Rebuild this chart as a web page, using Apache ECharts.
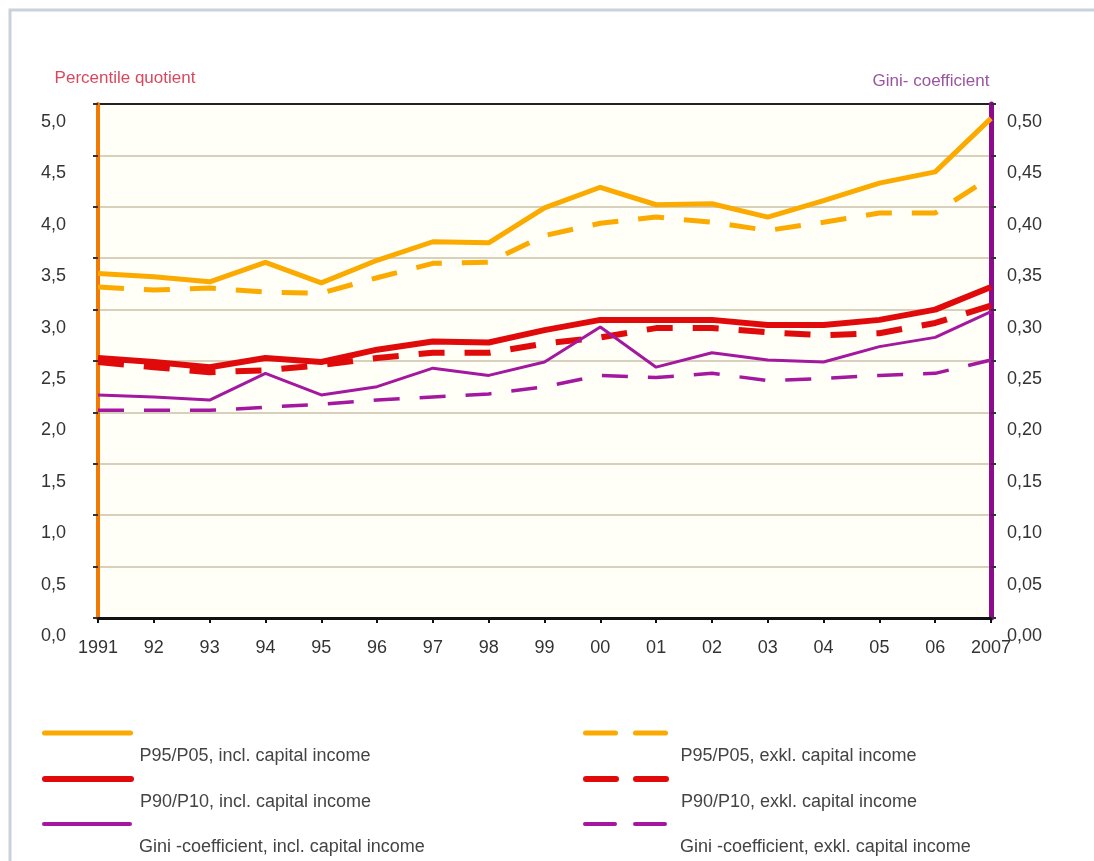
<!DOCTYPE html>
<html>
<head>
<meta charset="utf-8">
<script src="https://cdn.jsdelivr.net/npm/echarts@6/dist/echarts.min.js"></script>
<style>
  html, body { margin: 0; padding: 0; background: #fff; }
  #chart { width: 1094px; height: 861px; }
</style>
</head>
<body>
<div id="chart"></div>
<script>
const years = ['1991', '92', '93', '94', '95', '96', '97', '98', '99', '00', '01', '02', '03', '04', '05', '06', '2007']

// percentile quotients (left axis)
const p95Incl = [3.35, 3.32, 3.27, 3.46, 3.26, 3.48, 3.66, 3.65, 3.99, 4.19, 4.02, 4.03, 3.90, 4.06, 4.23, 4.34, 4.86]
const p95Exkl = [3.22, 3.19, 3.21, 3.17, 3.16, 3.31, 3.45, 3.46, 3.72, 3.84, 3.90, 3.85, 3.77, 3.85, 3.94, 3.94, 4.29]
const p90Incl = [2.53, 2.49, 2.44, 2.53, 2.49, 2.61, 2.69, 2.68, 2.80, 2.90, 2.90, 2.90, 2.85, 2.85, 2.90, 3.00, 3.22]
const p90Exkl = [2.49, 2.44, 2.39, 2.41, 2.46, 2.53, 2.58, 2.58, 2.67, 2.73, 2.82, 2.82, 2.78, 2.75, 2.77, 2.87, 3.04]

// gini coefficients (right axis)
const giniIncl = [0.217, 0.215, 0.212, 0.238, 0.217, 0.225, 0.243, 0.236, 0.249, 0.283, 0.244, 0.258, 0.251, 0.249, 0.264, 0.273, 0.298]
const giniExkl = [0.202, 0.202, 0.202, 0.205, 0.208, 0.212, 0.215, 0.218, 0.225, 0.236, 0.234, 0.238, 0.231, 0.233, 0.236, 0.238, 0.251]

const names = [
  'P95/P05, incl. capital income',
  'P90/P10, incl. capital income',
  'Gini -coefficient, incl. capital income',
  'P95/P05, exkl. capital income',
  'P90/P10, exkl. capital income',
  'Gini -coefficient, exkl. capital income'
]

const ORANGE = '#fbaa00'
const RED = '#e00a0a'
const PURPLE = '#a3189e'
const DASH = [26, 20]
const FONT = 'Liberation Sans, Arial, sans-serif'

// grid line colours, last one (5,0) is the black top frame
const splitColors = ['#d6d0bc', '#d6d0bc', '#d6d0bc', '#d6d0bc', '#d6d0bc', '#d6d0bc', '#d6d0bc', '#d6d0bc', '#d6d0bc', '#d6d0bc', '#222']

function makeLine(name, data, color, width, dashed, axis) {
  return {
    name: name,
    type: 'line',
    yAxisIndex: axis,
    data: data,
    symbol: 'none',
    z: dashed ? 3 : 4,
    lineStyle: { color: color, width: width, type: dashed ? DASH : 'solid', cap: 'butt' },
    itemStyle: { color: color }
  }
}

// one legend per entry: icon on top, text a row lower (as in the original)
function makeLegend(name, left, iconY, color, width, dashed) {
  return {
    left: left,
    top: iconY - 32,
    padding: 0,
    itemWidth: 86,
    itemHeight: 14,
    data: [name],
    itemStyle: { opacity: 0 },
    lineStyle: { color: color, width: width, type: dashed ? [30, 20] : 'solid', cap: 'round' },
    formatter: n => '{gap| }\n{t|' + n + '}',
    textStyle: {
      rich: {
        gap: { height: 46, lineHeight: 46, fontSize: 2 },
        t: { color: '#444', fontSize: 18, lineHeight: 18, fontFamily: FONT, padding: [0, 0, 0, 4] }
      }
    }
  }
}

const option = {
  backgroundColor: '#fff',
  animation: false,
  textStyle: { fontFamily: FONT },
  graphic: [{
    type: 'rect',
    shape: { x: 10, y: 10, width: 1200, height: 1000 },
    style: { fill: 'none', stroke: '#c9d1dc', lineWidth: 3 },
    silent: true
  }],
  grid: {
    left: 98, right: 103, top: 104, bottom: 243,
    show: true, backgroundColor: '#fffef7', borderWidth: 0
  },
  legend: [
    makeLegend(names[0], 42, 733, ORANGE, 5, false),
    makeLegend(names[1], 42, 779, RED, 6, false),
    makeLegend(names[2], 42, 824, PURPLE, 4, false),
    makeLegend(names[3], 583, 733, ORANGE, 5, true),
    makeLegend(names[4], 583, 779, RED, 6, true),
    makeLegend(names[5], 583, 824, PURPLE, 4, true)
  ],
  xAxis: {
    type: 'category',
    data: years,
    boundaryGap: false,
    axisLine: { lineStyle: { color: '#111', width: 3 } },
    axisTick: { show: true, length: 5, lineStyle: { color: '#111', width: 2 } },
    axisLabel: { color: '#333', fontSize: 18, margin: 21, fontFamily: FONT },
    splitLine: { show: false }
  },
  yAxis: [{
    type: 'value',
    min: 0, max: 5, interval: 0.5,
    name: 'Percentile quotient',
    nameLocation: 'end',
    nameGap: 17,
    nameTextStyle: { color: '#d9485e', fontSize: 17, fontFamily: FONT, align: 'center', padding: [0, 0, 0, 54] },
    axisLine: { show: true, lineStyle: { color: '#f27a00', width: 4 } },
    axisTick: { show: true, length: 5, lineStyle: { color: '#333', width: 2 } },
    axisLabel: {
      color: '#333', fontSize: 18, margin: 32, fontFamily: FONT,
      verticalAlign: 'top', padding: [9, 0, 0, 0],
      formatter: v => v.toFixed(1).replace('.', ',')
    },
    splitLine: { show: true, lineStyle: { color: splitColors, width: 2 } }
  }, {
    type: 'value',
    min: 0, max: 0.5, interval: 0.05,
    name: 'Gini- coefficient',
    nameLocation: 'end',
    nameGap: 14,
    nameTextStyle: { color: '#9a55a0', fontSize: 17, fontFamily: FONT, align: 'center', padding: [0, 120, 0, 0] },
    axisLine: { show: true, lineStyle: { color: '#8e0a8e', width: 5 } },
    axisTick: { show: true, length: 5, lineStyle: { color: '#333', width: 2 } },
    axisLabel: {
      color: '#333', fontSize: 18, margin: 16, fontFamily: FONT,
      verticalAlign: 'top', padding: [9, 0, 0, 0],
      formatter: v => v.toFixed(2).replace('.', ',')
    },
    splitLine: { show: false }
  }],
  series: [
    makeLine(names[3], p95Exkl, ORANGE, 5, true, 0),
    makeLine(names[4], p90Exkl, RED, 6, true, 0),
    makeLine(names[5], giniExkl, PURPLE, 3.5, true, 1),
    makeLine(names[0], p95Incl, ORANGE, 5, false, 0),
    makeLine(names[1], p90Incl, RED, 6, false, 0),
    makeLine(names[2], giniIncl, PURPLE, 3, false, 1)
  ]
}

const chart = echarts.init(document.getElementById('chart'))
chart.setOption(option)
</script>
</body>
</html>
